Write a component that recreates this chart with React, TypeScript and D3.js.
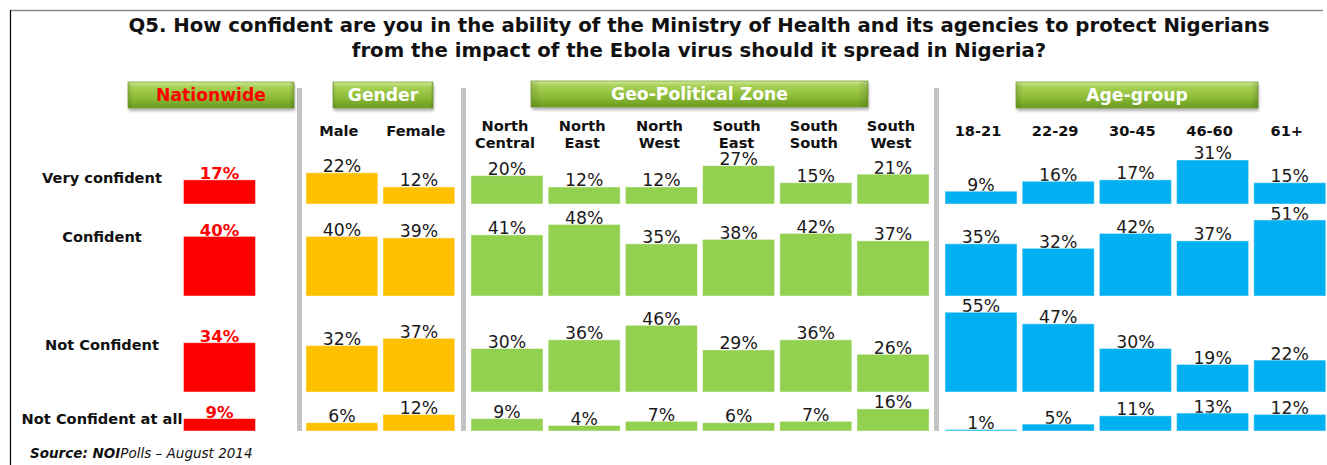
import React from "react";
import * as d3 from "d3";

// ---------- DATA ----------
const titleLines = [
  "Q5. How confident are you in the ability of the Ministry of Health and its agencies to protect Nigerians",
  "from the impact of the Ebola virus should it spread in Nigeria?",
];
const rowLabels = ["Very confident", "Confident", "Not Confident", "Not Confident at all"];

const nationwideCategories = [""];
const nationwide = [17, 40, 34, 9];

const genderCategories = ["Male", "Female"];
const male = [22, 40, 32, 6];
const female = [12, 39, 37, 12];

const geoCategories = ["North Central", "North East", "North West", "South East", "South South", "South West"];
const northCentral = [20, 41, 30, 9];
const northEast = [12, 48, 36, 4];
const northWest = [12, 35, 46, 7];
const southEast = [27, 38, 29, 6];
const southSouth = [15, 42, 36, 7];
const southWest = [21, 37, 26, 16];

const ageCategories = ["18-21", "22-29", "30-45", "46-60", "61+"];
const age18 = [9, 35, 55, 1];
const age22 = [16, 32, 47, 5];
const age30 = [17, 42, 30, 11];
const age46 = [31, 37, 19, 13];
const age61 = [15, 51, 22, 12];

const sourceBold = "Source: NOI";
const sourceRest = "Polls – August 2014";

// ---------- LAYOUT ----------
const W = 1327;
const H = 465;
const FONT = "'DejaVu Sans', Verdana, sans-serif";

// each row is its own small chart: baseline, pixels per percent, row-label baseline
const rowLayout = [
  { bottom: 204, ppp: 1.42, labelY: 183 },
  { bottom: 296, ppp: 1.49, labelY: 242 },
  { bottom: 392, ppp: 1.45, labelY: 350 },
  { bottom: 431, ppp: 1.38, labelY: 424 },
];

type Group = {
  header: string;
  headerColor: string;
  box: [number, number, number, number]; // x0,x1,y0,y1
  cats: string[];
  series: number[][];
  color: string;
  x0: number;
  step: number;
  nation?: boolean;
};

const groups: Group[] = [
  {
    header: "Nationwide", headerColor: "#ff0000", box: [128, 294, 82, 108],
    cats: nationwideCategories, series: [nationwide], color: "#ff0000",
    x0: 180.9, step: 77.2, nation: true,
  },
  {
    header: "Gender", headerColor: "#ffffff", box: [333, 433, 82, 108],
    cats: genderCategories, series: [male, female], color: "#ffc000",
    x0: 303.4, step: 77,
  },
  {
    header: "Geo-Political Zone", headerColor: "#ffffff", box: [531, 868, 81, 107],
    cats: geoCategories, series: [northCentral, northEast, northWest, southEast, southSouth, southWest],
    color: "#92d050", x0: 468.4, step: 77.2,
  },
  {
    header: "Age-group", headerColor: "#ffffff", box: [1016, 1258, 82, 108],
    cats: ageCategories, series: [age18, age22, age30, age46, age61], color: "#00b0f0",
    x0: 942.4, step: 77.2,
  },
];

const separators = [299.5, 463.5, 936.5];

export default function App() {
  return (
    <div style={{ position: "absolute", left: 0, top: 0, width: W, height: H, background: "#fff" }}>
      <svg width={W} height={H} style={{ display: "block" }} fontFamily={FONT}>
        <defs>
          <linearGradient id="btn" x1="0" y1="0" x2="0" y2="1">
            <stop offset="0" stopColor="#cfe89a" />
            <stop offset="0.18" stopColor="#a9d156" />
            <stop offset="0.6" stopColor="#8cbc36" />
            <stop offset="1" stopColor="#6b9a1f" />
          </linearGradient>
          <linearGradient id="btnSide" x1="0" y1="0" x2="1" y2="0">
            <stop offset="0" stopColor="#000" stopOpacity="0.12" />
            <stop offset="0.03" stopColor="#000" stopOpacity="0" />
            <stop offset="0.97" stopColor="#000" stopOpacity="0" />
            <stop offset="1" stopColor="#000" stopOpacity="0.15" />
          </linearGradient>
          <filter id="shadow" x="-10%" y="-30%" width="120%" height="180%">
            <feGaussianBlur stdDeviation="1.5" />
          </filter>
        </defs>

        {/* frame */}
        <line x1={10} y1={10.5} x2={1323} y2={10.5} stroke="#8c8c8c" strokeWidth={1.5} />
        <line x1={10.5} y1={10} x2={10.5} y2={H} stroke="#000" strokeWidth={1.2} />

        {/* title */}
        {titleLines.map((t, i) => (
          <text key={i} x={699} y={32 + i * 25} textAnchor="middle" fontWeight="bold" fontSize={19.7} fill="#111">
            {t}
          </text>
        ))}

        {/* separators */}
        {separators.map((x, i) => (
          <rect key={i} x={x - 2.5} y={88} width={5} height={343} fill="#c3c3c3" />
        ))}

        {/* row labels */}
        {rowLabels.map((r, i) => (
          <text key={r} x={102} y={rowLayout[i].labelY} textAnchor="middle" fontWeight="bold" fontSize={14.6} fill="#111">
            {r}
          </text>
        ))}

        {groups.map((g) => {
          const xs = d3
            .scaleBand<string>()
            .domain(g.cats)
            .range([g.x0, g.x0 + g.cats.length * g.step])
            .paddingInner(0.067)
            .paddingOuter(0.0335);
          const [bx0, bx1, by0, by1] = g.box;
          return (
            <g key={g.header}>
              {/* header button */}
              <rect x={bx0 + 1} y={by0 + 3} width={bx1 - bx0} height={by1 - by0} fill="#555" opacity={0.45} filter="url(#shadow)" />
              <rect x={bx0} y={by0} width={bx1 - bx0} height={by1 - by0} fill="url(#btn)" stroke="#7ea53a" strokeWidth={0.8} />
              <rect x={bx0} y={by0} width={bx1 - bx0} height={by1 - by0} fill="url(#btnSide)" />
              <text x={(bx0 + bx1) / 2} y={by1 - 7} textAnchor="middle" fontWeight="bold" fontSize={17.2} fill={g.headerColor}>
                {g.header}
              </text>

              {/* category labels */}
              {g.cats.map((c) => {
                const cx = (xs(c) as number) + xs.bandwidth() / 2;
                const words = c.split(" ");
                if (words.length === 2 && g.header.startsWith("Geo")) {
                  return (
                    <text key={c} x={cx - 2} textAnchor="middle" fontWeight="bold" fontSize={14.6} fill="#111">
                      <tspan x={cx - 2} y={131}>{words[0]}</tspan>
                      <tspan x={cx - 2} y={148}>{words[1]}</tspan>
                    </text>
                  );
                }
                return c ? (
                  <text key={c} x={cx - 3} y={136} textAnchor="middle" fontWeight="bold" fontSize={14.6} fill="#111">
                    {c}
                  </text>
                ) : null;
              })}

              {/* bars per row */}
              {rowLayout.map((row, ri) => {
                const y = d3
                  .scaleLinear()
                  .domain([0, 100])
                  .range([row.bottom, row.bottom - 100 * row.ppp]);
                return (
                  <g key={ri}>
                    {g.cats.map((c, ci) => {
                      const v = g.series[ci][ri];
                      const cx = (xs(c) as number) + xs.bandwidth() / 2;
                      return (
                        <text
                          key={"t" + ci}
                          x={cx}
                          y={y(v) - 0.5}
                          textAnchor="middle"
                          fontSize={g.nation ? 16.5 : 17.3}
                          fontWeight={g.nation ? "bold" : "normal"}
                          fill={g.nation ? "#ff0000" : "#1a1a1a"}
                        >
                          {v}%
                        </text>
                      );
                    })}
                    {g.cats.map((c, ci) => {
                      const v = g.series[ci][ri];
                      return (
                        <rect
                          key={"b" + ci}
                          x={xs(c) as number}
                          y={y(v)}
                          width={xs.bandwidth()}
                          height={y(0) - y(v)}
                          fill={g.color}
                          stroke="#ffffff"
                          strokeOpacity={0.45}
                          strokeWidth={1}
                        />
                      );
                    })}
                  </g>
                );
              })}
            </g>
          );
        })}

        {/* source */}
        <text x={30} y={458} fontSize={13.5} fontStyle="italic" fill="#111">
          <tspan fontWeight="bold">{sourceBold}</tspan>
          <tspan>{sourceRest}</tspan>
        </text>
      </svg>
    </div>
  );
}
